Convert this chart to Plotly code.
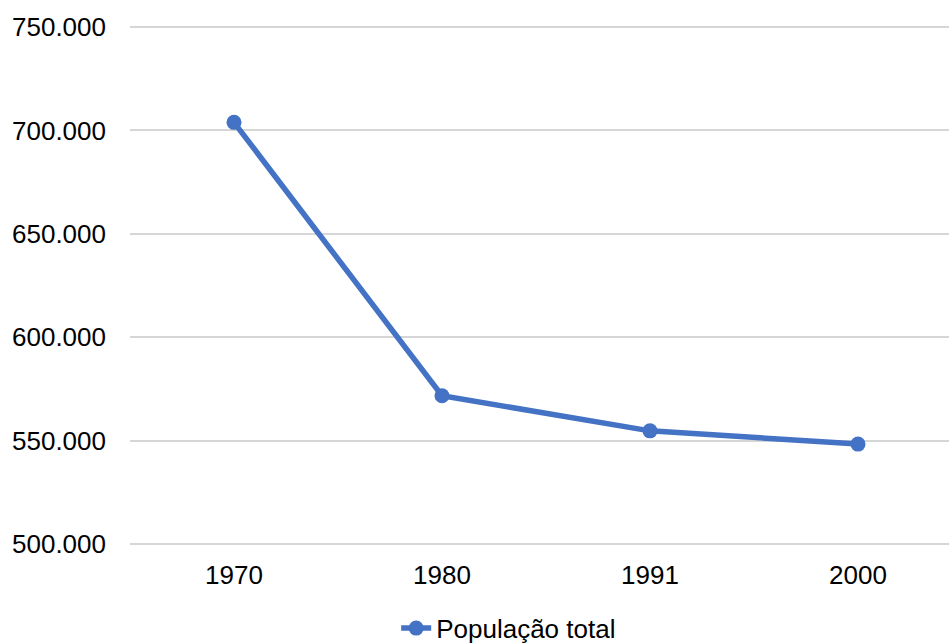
import plotly.graph_objects as go

years = ["1970", "1980", "1991", "2000"]
populacao = [703900, 571700, 554700, 548300]
series_name = "População total"
y_ticks = [500000, 550000, 600000, 650000, 700000, 750000]

fig = go.Figure()
fig.add_trace(go.Scatter(
    x=years, y=populacao, name=series_name, mode="lines+markers",
    line=dict(color="#4472C4", width=5.5),
    marker=dict(color="#4472C4", size=15),
    showlegend=True,
))

fig.update_layout(
    width=949, height=644,
    margin=dict(l=130, r=0, t=26, b=99, autoexpand=False),
    paper_bgcolor="white", plot_bgcolor="white",
    separators=",.",
    font=dict(family="Liberation Sans, Arial, sans-serif", size=26, color="#000000"),
    showlegend=True,
    legend=dict(orientation="h", x=0.325, xanchor="left", y=-0.115, yanchor="top",
                font=dict(size=26), bgcolor="rgba(0,0,0,0)"),
    xaxis=dict(type="category", range=[-0.5, 3.4375], showgrid=False, showline=False,
               zeroline=False, ticks="", ticklabelstandoff=12),
    yaxis=dict(range=[499500, 750500], tickvals=y_ticks, tickformat=",d",
               showgrid=True, gridcolor="#D6D6D6", gridwidth=1.8, zeroline=False,
               showline=False, ticks="", ticklabelstandoff=23),
)

fig.write_html(
    "out.html",
    config={"displayModeBar": False},
    post_script="document.body.style.margin='0';document.body.style.overflow='hidden';",
)
